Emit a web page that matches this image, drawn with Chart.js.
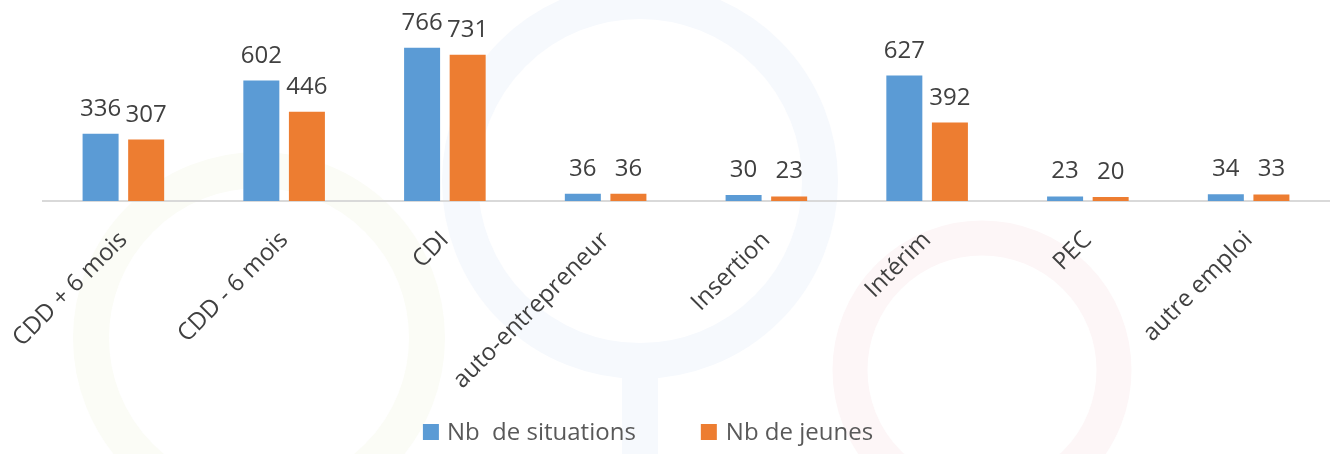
<!DOCTYPE html>
<html>
<head>
<meta charset="utf-8">
<script src="https://cdn.jsdelivr.net/npm/chart.js@4.4.0/dist/chart.umd.min.js"></script>
<style>
    html, body { margin: 0; padding: 0; background: #fff; }
    #wrap { width: 1335px; height: 454px; }
</style>
</head>
<body>
<div id="wrap"><canvas id="myChart" width="1335" height="454"></canvas></div>
<script>
var categories = ['CDD + 6 mois', 'CDD - 6 mois', 'CDI', 'auto-entrepreneur', 'Insertion', 'Intérim', 'PEC', 'autre emploi'];
var situations = [336, 602, 766, 36, 30, 627, 23, 34];
var jeunes = [307, 446, 731, 36, 23, 392, 20, 33];
var seriesNames = ['Nb  de situations', 'Nb de jeunes'];

// faint rings in the background (watermark)
var watermark = {
    id: 'watermark',
    beforeDraw: function (chart) {
        var c = chart.ctx;
        c.save();
        c.fillStyle = '#fff';
        c.fillRect(0, 0, chart.width, chart.height);
        function ring(x, y, r, w, col) {
            c.beginPath();
            c.arc(x, y, r, 0, Math.PI * 2);
            c.lineWidth = w;
            c.strokeStyle = col;
            c.stroke();
        }
        ring(259, 338, 168, 36, '#fbfcf6');
        ring(640, 181, 180, 36, '#f6f9fd');
        c.fillStyle = '#f6f9fd';
        c.fillRect(622, 377, 36, 80);
        ring(982, 370, 132, 35, '#fdf6f7');
        c.restore();
    }
};

// values above the bars
var valueLabels = {
    id: 'valueLabels',
    afterDatasetsDraw: function (chart) {
        var c = chart.ctx;
        c.save();
        c.font = '24px "Open Sans"';
        c.fillStyle = '#404040';
        c.textAlign = 'center';
        c.textBaseline = 'alphabetic';
        chart.data.datasets.forEach(function (ds, i) {
            var meta = chart.getDatasetMeta(i);
            meta.data.forEach(function (bar, j) {
                c.fillText(ds.data[j], bar.x, bar.y - 18);
            });
        });
        c.restore();
    }
};

// legend under the chart, drawn by hand so the spacing matches
var bottomLegend = {
    id: 'bottomLegend',
    afterDraw: function (chart) {
        var c = chart.ctx;
        c.save();
        c.font = '24px "Open Sans"';
        c.textBaseline = 'middle';
        var ds = chart.data.datasets;
        var w1 = c.measureText(ds[0].label).width;
        var w2 = c.measureText(ds[1].label).width;
        var total = 24 + w1 + 65 + 25 + w2;
        var x = 648 - total / 2;
        var y = 433;
        c.fillStyle = ds[0].backgroundColor;
        c.fillRect(x, y - 9, 16, 16);
        c.fillStyle = '#595959';
        c.fillText(ds[0].label, x + 24, y);
        x = x + 24 + w1 + 65;
        c.fillStyle = ds[1].backgroundColor;
        c.fillRect(x, y - 9, 16, 16);
        c.fillStyle = '#595959';
        c.fillText(ds[1].label, x + 25, y);
        c.restore();
    }
};

var ctx = document.getElementById('myChart');
var myChart = new Chart(ctx, {
    type: 'bar',
    data: {
        labels: categories,
        datasets: [{
                label: seriesNames[0],
                data: situations,
                backgroundColor: '#5b9bd5',
                categoryPercentage: 0.567,
                barPercentage: 0.79
            }, {
                label: seriesNames[1],
                data: jeunes,
                backgroundColor: '#ed7d31',
                categoryPercentage: 0.567,
                barPercentage: 0.79
            }]
    },
    options: {
        responsive: false,
        animation: false,
        layout: {padding: {left: 43, right: 6, top: 1, bottom: 0}},
        plugins: {
            tooltip: {enabled: false},
            legend: {display: false}
        },
        scales: {
            y: {
                display: false,
                min: 0,
                max: 1000
            },
            x: {
                grid: {display: false, drawTicks: false},
                border: {display: true, color: '#d9d9d9', width: 2},
                ticks: {
                    autoSkip: false,
                    minRotation: 45,
                    maxRotation: 45,
                    padding: 25,
                    color: '#404040',
                    font: {family: 'Open Sans', size: 24}
                },
                afterFit: function (scale) {
                    scale.height = 253;
                    // labels may hang out to the left, don't shrink the plot for them
                    scale.paddingLeft = 0;
                    scale.paddingRight = 0;
                }
            }
        }
    },
    plugins: [watermark, valueLabels, bottomLegend]
});
</script>
</body>
</html>
